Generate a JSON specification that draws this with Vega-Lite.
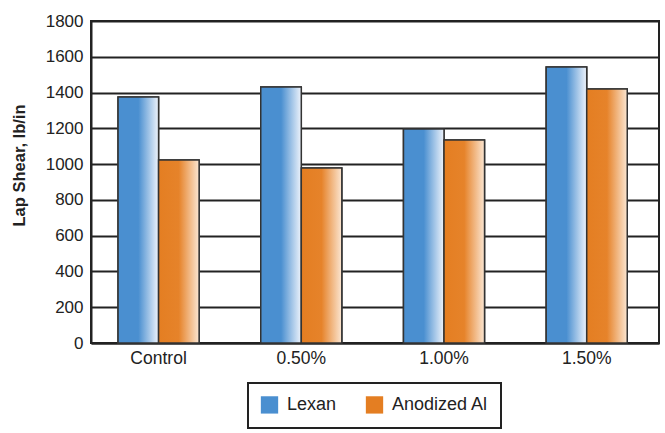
{
  "$schema": "https://vega.github.io/schema/vega-lite/v6.json",
  "width": 568,
  "height": 322,
  "autosize": {"type": "none"},
  "padding": {"left": 91, "top": 21, "right": 6, "bottom": 90},
  "background": "white",
  "config": {
    "font": "Liberation Sans",
    "view": {"stroke": "#222222", "strokeWidth": 2},
    "axis": {"labelFont": "Liberation Sans", "labelColor": "#222222", "titleFont": "Liberation Sans"}
  },
  "data": {
    "values": [
      {"group": "Control", "series": "Lexan", "value": 1375},
      {"group": "Control", "series": "Anodized Al", "value": 1023},
      {"group": "0.50%", "series": "Lexan", "value": 1431},
      {"group": "0.50%", "series": "Anodized Al", "value": 978},
      {"group": "1.00%", "series": "Lexan", "value": 1196},
      {"group": "1.00%", "series": "Anodized Al", "value": 1135},
      {"group": "1.50%", "series": "Lexan", "value": 1543},
      {"group": "1.50%", "series": "Anodized Al", "value": 1420}
    ]
  },
  "encoding": {
    "x": {
      "field": "group", "type": "nominal", "sort": null,
      "scale": {"domain": ["Control", "0.50%", "1.00%", "1.50%"], "paddingInner": 0.432, "paddingOuter": 0.206, "align": 0.46},
      "axis": {"title": null, "labelAngle": 0, "ticks": false, "domainColor": "#222222", "domainWidth": 2, "labelPadding": 6, "labelFontSize": 17.5}
    },
    "xOffset": {"field": "series", "type": "nominal", "sort": null, "scale": {"domain": ["Lexan", "Anodized Al"], "paddingInner": 0, "paddingOuter": 0}},
    "y": {
      "field": "value", "type": "quantitative",
      "scale": {"domain": [0, 1800], "nice": false},
      "axis": {
        "title": "Lap Shear, lb/in", "titleFontSize": 16.5, "titleFontWeight": "bold", "titleColor": "#222222",
        "titleX": -72, "titleY": 144, "titleBaseline": "middle", "titleAlign": "center", "titleAngle": 270,
        "values": [0, 200, 400, 600, 800, 1000, 1200, 1400, 1600, 1800], "format": "d", "labelFontSize": 17,
        "ticks": false, "labelPadding": 8, "grid": true, "gridColor": "#222222", "gridWidth": 2, "gridOpacity": 1,
        "domainColor": "#222222", "domainWidth": 2
      }
    }
  },
  "layer": [
    {
      "mark": {"type": "bar", "stroke": "#333333", "strokeWidth": 1.5},
      "encoding": {
        "color": {
          "field": "series", "type": "nominal", "sort": null,
          "scale": {"domain": ["Lexan", "Anodized Al"], "range": ["#4a8fd0", "#e47e22"]},
          "legend": {
            "title": null, "orient": "none", "legendX": 157, "legendY": 362, "direction": "horizontal",
            "symbolType": "square", "symbolSize": 300, "symbolStrokeColor": "#333333", "symbolStrokeWidth": 1,
            "labelFontSize": 18, "labelColor": "#222222", "labelFont": "Liberation Sans", "labelOffset": 8, "columnPadding": 26,
            "strokeColor": "#222222", "padding": 12, "fillColor": "white",
            "encode": {
              "legend": {"update": {"strokeWidth": {"value": 2}}},
              "symbols": {
                "update": {
                  "fill": {"signal": "datum.value == 'Lexan' ? {gradient: 'linear', x1: 0, y1: 0, x2: 1, y2: 0, stops: [{offset: 0, color: '#4a8fd0'}, {offset: 0.45, color: '#4a8fd0'}, {offset: 0.55, color: '#a9c8ea'}, {offset: 0.68, color: '#4a8fd0'}, {offset: 1, color: '#eef3fb'}]} : {gradient: 'linear', x1: 0, y1: 0, x2: 1, y2: 0, stops: [{offset: 0, color: '#e47e22'}, {offset: 0.45, color: '#e47e22'}, {offset: 0.55, color: '#f4b883'}, {offset: 0.68, color: '#e6832a'}, {offset: 1, color: '#fbe6d2'}]}"}
                }
              }
            }
          }
        }
      }
    },
    {
      "transform": [{"filter": "datum.series == 'Lexan'"}],
      "mark": {
        "type": "bar", "stroke": "#333333", "strokeWidth": 1.5,
        "color": {"gradient": "linear", "x1": 0, "y1": 0, "x2": 1, "y2": 0, "stops": [{"offset": 0, "color": "#4a8fd0"}, {"offset": 0.5, "color": "#4a8fd0"}, {"offset": 1, "color": "#eef3fb"}]}
      }
    },
    {
      "transform": [{"filter": "datum.series == 'Anodized Al'"}],
      "mark": {
        "type": "bar", "stroke": "#333333", "strokeWidth": 1.5,
        "color": {"gradient": "linear", "x1": 0, "y1": 0, "x2": 1, "y2": 0, "stops": [{"offset": 0, "color": "#e47e22"}, {"offset": 0.5, "color": "#e6832a"}, {"offset": 1, "color": "#fbe6d2"}]}
      }
    }
  ]
}
